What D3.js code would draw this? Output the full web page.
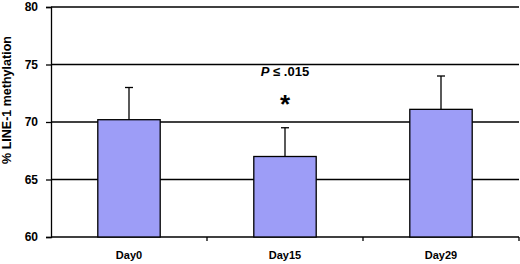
<!DOCTYPE html>
<html>
<head>
<meta charset="utf-8">
<script src="https://cdn.jsdelivr.net/npm/d3@7"></script>
<style>
  body { margin: 0; background: #fff; }
  text { font-family: Arial, "Liberation Sans", sans-serif; font-weight: bold; }
</style>
</head>
<body>
<div class="box"></div>
<script>
// data
const days = ['Day0', 'Day15', 'Day29'];
const means = [70.2, 67.0, 71.1];
const errs = [2.8, 2.5, 2.9];
const yTicks = [60, 65, 70, 75, 80];

const dims = {width: 520, height: 264};
const margin = {top: 7, right: 1, bottom: 27, left: 51};
const w = dims.width - margin.left - margin.right;
const h = dims.height - margin.top - margin.bottom;

const svg = d3.select('.box')
              .append('svg')
              .attr('width', dims.width)
              .attr('height', dims.height);

const graph = svg.append('g')
                 .attr('transform', `translate(${margin.left}, ${margin.top})`);

const x = d3.scaleBand()
            .domain(days)
            .range([0, w])
            .paddingInner(0.6)
            .paddingOuter(0.3);

const y = d3.scaleLinear()
            .domain([60, 80])
            .range([h, 0]);

// gridlines
graph.selectAll('line.grid')
     .data(yTicks.slice(1))
     .enter()
     .append('line')
     .attr('x1', 0)
     .attr('x2', w)
     .attr('y1', d => y(d))
     .attr('y2', d => y(d))
     .attr('stroke', '#000')
     .attr('stroke-width', 1.3);

// y axis
const yAxis = d3.axisLeft(y).tickValues(yTicks).tickSize(5).tickPadding(8);
const gy = graph.append('g').call(yAxis);
gy.select('.domain').attr('stroke-width', 1.3);
gy.selectAll('.tick line').attr('stroke-width', 1.3);
gy.selectAll('text').attr('font-size', 12).attr('fill', '#000');

// x axis, ticks sit between the categories
graph.append('line')
     .attr('x1', 0).attr('x2', w)
     .attr('y1', h).attr('y2', h)
     .attr('stroke', '#000').attr('stroke-width', 1.3);

graph.selectAll('line.xt')
     .data(days)
     .enter()
     .append('line')
     .attr('x1', d => x(d) + x.bandwidth() / 2 + w / days.length / 2)
     .attr('x2', d => x(d) + x.bandwidth() / 2 + w / days.length / 2)
     .attr('y1', h)
     .attr('y2', h + 4)
     .attr('stroke', '#000').attr('stroke-width', 1.3);

graph.selectAll('text.xl')
     .data(days)
     .enter()
     .append('text')
     .attr('x', d => x(d) + x.bandwidth() / 2)
     .attr('y', h + 22)
     .attr('text-anchor', 'middle')
     .attr('font-size', 11)
     .text(d => d);

// error bars (upper only)
graph.selectAll('line.err')
     .data(days)
     .enter()
     .append('line')
     .attr('x1', d => x(d) + x.bandwidth() / 2)
     .attr('x2', d => x(d) + x.bandwidth() / 2)
     .attr('y1', (d, i) => y(means[i]))
     .attr('y2', (d, i) => y(means[i] + errs[i]))
     .attr('stroke', '#000').attr('stroke-width', 1.3);

graph.selectAll('line.cap')
     .data(days)
     .enter()
     .append('line')
     .attr('x1', d => x(d) + x.bandwidth() / 2 - 4)
     .attr('x2', d => x(d) + x.bandwidth() / 2 + 4)
     .attr('y1', (d, i) => y(means[i] + errs[i]))
     .attr('y2', (d, i) => y(means[i] + errs[i]))
     .attr('stroke', '#000').attr('stroke-width', 1.3);

// bars
graph.selectAll('rect')
     .data(days)
     .enter()
     .append('rect')
     .attr('x', d => x(d))
     .attr('y', (d, i) => y(means[i]))
     .attr('width', x.bandwidth())
     .attr('height', (d, i) => h - y(means[i]))
     .attr('fill', '#9d9df7')
     .attr('stroke', '#000')
     .attr('stroke-width', 1.3);

// annotation
const cx = x('Day15') + x.bandwidth() / 2;
const ann = graph.append('text')
     .attr('x', cx)
     .attr('y', 69)
     .attr('text-anchor', 'middle')
     .attr('font-size', 13);
ann.append('tspan').attr('font-style', 'italic').text('P');
ann.append('tspan').text(' \u2264 .015');

graph.append('text')
     .attr('x', cx)
     .attr('y', 106)
     .attr('text-anchor', 'middle')
     .attr('font-size', 26)
     .text('*');

// y title
svg.append('text')
   .attr('transform', `translate(11, 100) rotate(-90)`)
   .attr('text-anchor', 'middle')
   .attr('font-size', 12.5)
   .text('% LINE-1 methylation');
</script>
</body>
</html>
